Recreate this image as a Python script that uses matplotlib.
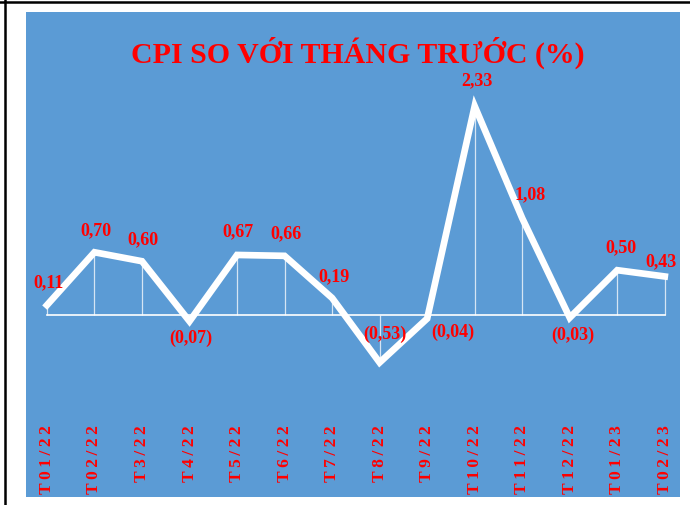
import matplotlib.pyplot as plt
from matplotlib.lines import Line2D

# Dữ liệu CPI so với tháng trước (%)
thang = ['T01/22', 'T02/22', 'T3/22', 'T4/22', 'T5/22', 'T6/22', 'T7/22',
         'T8/22', 'T9/22', 'T10/22', 'T11/22', 'T12/22', 'T01/23', 'T02/23']
cpi = [0.11, 0.70, 0.60, -0.07, 0.67, 0.66, 0.19,
       -0.53, -0.04, 2.33, 1.08, -0.03, 0.50, 0.43]

# vị trí nhãn so với điểm (pixel)
nhan_offset = [(2, 23), (1.5, 23), (1, 22), (1.5, -16), (1, 24), (1, 23), (2, 22),
               (5, 29.5), (26, -13), (2, 26), (8, 24), (3, -17), (4, 23), (-4, 16)]

xanh = '#5B9BD5'
do = '#FF0000'
serif = ['Liberation Serif', 'DejaVu Serif']


def dinh_dang(v):
    s = f'{abs(v):.2f}'.replace('.', ',')
    return f'({s})' if v < 0 else s


fig = plt.figure(figsize=(6.9, 5.06), dpi=100, facecolor='white')
ax = fig.add_axes([26 / 690, 8 / 506, 654 / 690, 485 / 506])
ax.set_facecolor(xanh)
for s in ax.spines.values():
    s.set_visible(False)
ax.set_xticks([])
ax.set_yticks([])
ax.set_xlim(-0.44, 13.32)
ax.set_ylim(-2.03, 3.38)

x = list(range(len(cpi)))

# đường 0 và các đường thả
ax.plot([x[0], x[-1]], [0, 0], color='white', lw=1.2, zorder=2)
ax.vlines(x, 0, cpi, colors='white', lw=0.9, alpha=0.75, zorder=2)

# đường chính
ax.plot(x, cpi, color='white', lw=4.8, solid_joinstyle='miter', zorder=3)

# nhãn giá trị
for xi, v, off in zip(x, cpi, nhan_offset):
    ax.annotate(dinh_dang(v), (xi, v), xytext=off, textcoords='offset pixels',
                ha='center', va='center', color=do, fontsize=13,
                fontweight='bold', family=serif, zorder=4)

# nhãn tháng (xoay dọc)
for xi, t in zip(x, thang):
    ax.text(xi, -1.215, '\u2009'.join(t), rotation=90, ha='center', va='top',
            color=do, fontsize=12.5, fontweight='bold', family=serif)

# tiêu đề
fig.text(358 / 690, 1 - 63 / 506, 'CPI SO VỚI THÁNG TRƯỚC (%)', ha='center',
         va='baseline', color=do, fontsize=21.5, fontweight='bold', family=serif)

# khung viền
fig.add_artist(Line2D([0, 1], [1 - 3 / 506, 1 - 3 / 506], color='black', lw=1.8,
                      transform=fig.transFigure))
fig.add_artist(Line2D([4.5 / 690, 4.5 / 690], [0, 1], color='black', lw=1.8,
                      transform=fig.transFigure))

fig.savefig('out.png', dpi=100, facecolor='white')
